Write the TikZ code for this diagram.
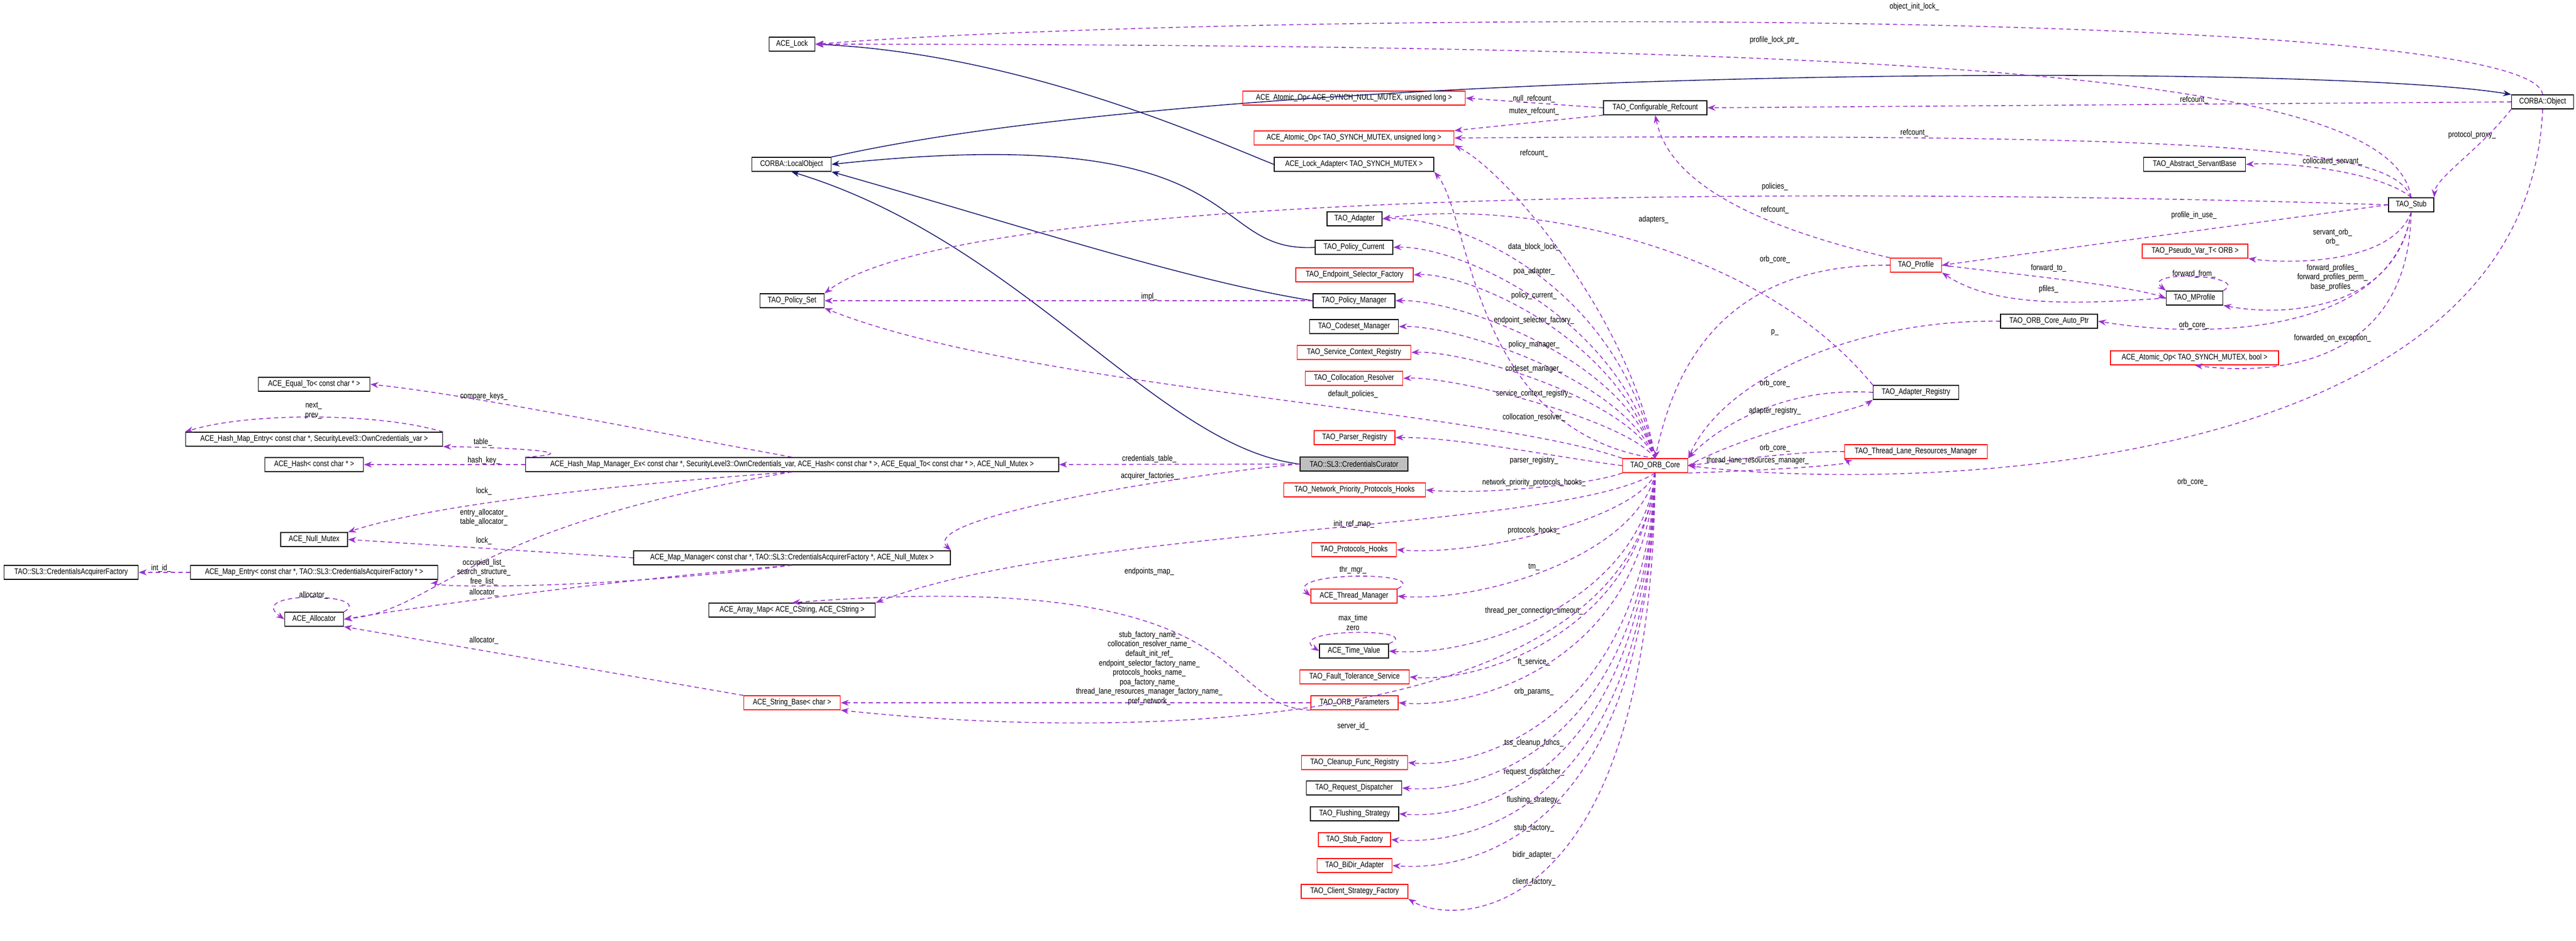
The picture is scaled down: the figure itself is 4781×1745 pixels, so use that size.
\documentclass[tikz,border=0pt]{standalone}
\usepackage{fontspec}
\newfontfamily\dx[FakeStretch=0.82]{Liberation Sans}
\usetikzlibrary{arrows.meta}
\definecolor{dep}{HTML}{9A32CD}
\definecolor{inh}{HTML}{191970}
\tikzset{
 cls/.style={draw=black,fill=white,line width=0.4pt,minimum height=0.26cm,inner sep=0pt,font=\dx\fontsize{4.3}{5}\selectfont},
 rcls/.style={cls,draw=red},
 dp/.style={draw=dep,line width=0.45pt,dash pattern=on 0.08cm off 0.06cm,-{Stealth[length=0.15cm,width=0.11cm]}},
 ih/.style={draw=inh,line width=0.45pt,-{Stealth[length=0.15cm,width=0.11cm]}},
 lb/.style={inner sep=0pt,font=\dx\fontsize{4.3}{5}\selectfont,align=center}
}
\begin{document}
\begin{tikzpicture}[x=0.01cm,y=-0.01cm]
\useasboundingbox (0,0) rectangle (4781,1745);
% nodes
\node[cls,minimum width=0.85cm] (lock) at (1470,82) {ACE\_Lock};
\node[cls,minimum width=1.47cm] (lobj) at (1469,305) {CORBA::LocalObject};
\node[cls,minimum width=1.19cm] (pset) at (1470,558) {TAO\_Policy\_Set};
\node[cls,minimum width=2.07cm] (eqto) at (583,713) {ACE\_Equal\_To< const char * >};
\node[cls,minimum width=4.77cm] (hme) at (583,815) {ACE\_Hash\_Map\_Entry< const char *, SecurityLevel3::OwnCredentials\_var >};
\node[cls,minimum width=1.83cm] (hash) at (583,862) {ACE\_Hash< const char * >};
\node[cls,minimum width=9.89cm] (hmm) at (1470,862) {ACE\_Hash\_Map\_Manager\_Ex< const char *, SecurityLevel3::OwnCredentials\_var, ACE\_Hash< const char * >, ACE\_Equal\_To< const char * >, ACE\_Null\_Mutex >};
\node[rcls,minimum width=4.13cm] (aonull) at (2513,182) {ACE\_Atomic\_Op< ACE\_SYNCH\_NULL\_MUTEX, unsigned long >};
\node[cls,minimum width=1.92cm] (cref) at (3072,200) {TAO\_Configurable\_Refcount};
\node[rcls,minimum width=3.71cm] (aomut) at (2513,256) {ACE\_Atomic\_Op< TAO\_SYNCH\_MUTEX, unsigned long >};
\node[cls,minimum width=2.96cm] (ladp) at (2513,305) {ACE\_Lock\_Adapter< TAO\_SYNCH\_MUTEX >};
\node[cls,minimum width=1.02cm] (adp) at (2514,406) {TAO\_Adapter};
\node[cls,minimum width=1.44cm] (pcur) at (2513,459) {TAO\_Policy\_Current};
\node[rcls,minimum width=2.18cm] (esf) at (2514,510) {TAO\_Endpoint\_Selector\_Factory};
\node[cls,minimum width=1.52cm] (pman) at (2513,558) {TAO\_Policy\_Manager};
\node[cls,minimum width=1.65cm] (csm) at (2513,606) {TAO\_Codeset\_Manager};
\node[rcls,minimum width=2.11cm] (scr) at (2513,654) {TAO\_Service\_Context\_Registry};
\node[rcls,minimum width=1.81cm] (colr) at (2513,702) {TAO\_Collocation\_Resolver};
\node[rcls,minimum width=1.50cm] (preg) at (2514,812) {TAO\_Parser\_Registry};
\node[cls,fill=black!25,minimum width=2.00cm] (cur) at (2513,861) {TAO::SL3::CredentialsCurator};
\node[rcls,minimum width=1.21cm] (core) at (3072,864) {TAO\_ORB\_Core};
\node[rcls,minimum width=2.63cm] (npph) at (2514,909) {TAO\_Network\_Priority\_Protocols\_Hooks};
\node[cls,minimum width=1.15cm] (obj) at (4719,189) {CORBA::Object};
\node[cls,minimum width=1.89cm] (asb) at (4073,305) {TAO\_Abstract\_ServantBase};
\node[cls,minimum width=0.84cm] (stub) at (4475,380) {TAO\_Stub};
\node[rcls,minimum width=0.95cm] (prof) at (3556,492) {TAO\_Profile};
\node[rcls,minimum width=1.96cm] (pvar) at (4074,466) {TAO\_Pseudo\_Var\_T< ORB >};
\node[cls,minimum width=1.05cm] (mprof) at (4073,553) {TAO\_MProfile};
\node[cls,minimum width=1.80cm] (oap) at (3803,596) {TAO\_ORB\_Core\_Auto\_Ptr};
\node[rcls,minimum width=3.12cm] (aobool) at (4073,664) {ACE\_Atomic\_Op< TAO\_SYNCH\_MUTEX, bool >};
\node[cls,minimum width=1.59cm] (areg) at (3556,728) {TAO\_Adapter\_Registry};
\node[rcls,minimum width=2.65cm] (tlrm) at (3556,838) {TAO\_Thread\_Lane\_Resources\_Manager};
\node[cls,minimum width=1.24cm] (nmut) at (583,1001) {ACE\_Null\_Mutex};
\node[cls,minimum width=2.49cm] (caf) at (132,1062) {TAO::SL3::CredentialsAcquirerFactory};
\node[cls,minimum width=4.59cm] (ment) at (583,1062) {ACE\_Map\_Entry< const char *, TAO::SL3::CredentialsAcquirerFactory * >};
\node[cls,minimum width=1.09cm] (alloc) at (583,1149) {ACE\_Allocator};
\node[cls,minimum width=5.88cm] (mman) at (1470,1035) {ACE\_Map\_Manager< const char *, TAO::SL3::CredentialsAcquirerFactory *, ACE\_Null\_Mutex >};
\node[cls,minimum width=3.09cm] (amap) at (1470,1132) {ACE\_Array\_Map< ACE\_CString, ACE\_CString >};
\node[rcls,minimum width=1.79cm] (sbase) at (1470,1304) {ACE\_String\_Base< char >};
\node[rcls,minimum width=1.57cm] (phk) at (2513,1020) {TAO\_Protocols\_Hooks};
\node[rcls,minimum width=1.60cm] (thm) at (2513,1106) {ACE\_Thread\_Manager};
\node[cls,minimum width=1.28cm] (tval) at (2513,1208) {ACE\_Time\_Value};
\node[rcls,minimum width=2.03cm] (fts) at (2514,1256) {TAO\_Fault\_Tolerance\_Service};
\node[rcls,minimum width=1.62cm] (opar) at (2514,1304) {TAO\_ORB\_Parameters};
\node[rcls,minimum width=1.97cm] (cfr) at (2514,1415) {TAO\_Cleanup\_Func\_Registry};
\node[cls,minimum width=1.77cm] (rdis) at (2513,1462) {TAO\_Request\_Dispatcher};
\node[cls,minimum width=1.64cm] (fstr) at (2514,1510) {TAO\_Flushing\_Strategy};
\node[rcls,minimum width=1.34cm] (sfac) at (2514,1558) {TAO\_Stub\_Factory};
\node[rcls,minimum width=1.39cm] (bidir) at (2514,1606) {TAO\_BiDir\_Adapter};
\node[rcls,minimum width=1.98cm] (csf) at (2514,1654) {TAO\_Client\_Strategy\_Factory};
% inheritance
\draw[ih] (ladp.west) .. controls (2250,260) and (1900,100) .. (lock.east);
\draw[ih] (lobj.north east) .. controls (2300,120) and (4300,115) .. (obj.north west);
\draw[ih] (pcur.west) .. controls (2230,470) and (2340,220) .. (lobj.east);
\draw[ih] (pman.west) .. controls (2200,520) and (1900,420) .. (lobj.south east);
\draw[ih] (cur.west) .. controls (2150,830) and (1900,450) .. (lobj.south);
% dependencies with labels
\draw[dp] (obj.north) .. controls (4700,10) and (2300,20) .. (lock.east); \node[lb] at (3553,13) {object\_init\_lock\_};
\draw[dp] (stub.north) .. controls (4440,150) and (3700,82) .. (lock.east); \node[lb] at (3293,75) {profile\_lock\_ptr\_};
\draw[dp] (obj.west) -- (cref.east); \node[lb] at (4072,186) {refcount\_};
\draw[dp] (stub.north) .. controls (4440,280) and (4200,245) .. (aomut.east); \node[lb] at (3553,247) {refcount\_};
\draw[dp] (cref.west) -- (aonull.east); \node[lb] at (2847,184) {null\_refcount\_};
\draw[dp] (cref.south west) -- (aomut.north east); \node[lb] at (2847,207) {mutex\_refcount\_};
\draw[dp] (core.north) .. controls (3030,600) and (2800,320) .. (aomut.south east); \node[lb] at (2847,285) {refcount\_};
\draw[dp] (prof.north west) .. controls (3170,400) and (3090,300) .. (cref.south); \node[lb] at (3294,390) {refcount\_};
\draw[dp] (stub.west) .. controls (3500,350) and (1800,340) .. (pset.north east); \node[lb] at (3294,347) {policies\_};
\draw[dp] (pman.west) -- (pset.east); \node[lb] at (2133,551) {impl\_};
\draw[dp] (core.north west) .. controls (2750,760) and (1900,720) .. (pset.south east); \node[lb] at (2511,732) {default\_policies\_};
\draw[dp] (areg.north west) .. controls (3250,440) and (2800,370) .. (adp.east); \node[lb] at (3069,408) {adapters\_};
\draw[dp] (core.north) .. controls (2730,800) and (2730,400) .. (ladp.south east); \node[lb] at (2847,459) {data\_block\_lock\_};
\draw[dp] (core.north) .. controls (3000,520) and (2700,400) .. (adp.east); \node[lb] at (2847,504) {poa\_adapter\_};
\draw[dp] (core.north) .. controls (3000,580) and (2700,455) .. (pcur.east); \node[lb] at (2847,549) {policy\_current\_};
\draw[dp] (core.north) .. controls (3000,620) and (2720,505) .. (esf.east); \node[lb] at (2847,595) {endpoint\_selector\_factory\_};
\draw[dp] (core.north) .. controls (3010,660) and (2700,555) .. (pman.east); \node[lb] at (2847,640) {policy\_manager\_};
\draw[dp] (core.north) .. controls (3010,700) and (2700,603) .. (csm.east); \node[lb] at (2847,685) {codeset\_manager\_};
\draw[dp] (core.north) .. controls (3020,740) and (2720,650) .. (scr.east); \node[lb] at (2847,731) {service\_context\_registry\_};
\draw[dp] (core.north) .. controls (3020,780) and (2700,698) .. (colr.east); \node[lb] at (2847,775) {collocation\_resolver\_};
\draw[dp] (core.west) .. controls (2900,850) and (2700,810) .. (preg.east); \node[lb] at (2847,855) {parser\_registry\_};
\draw[dp] (core.south west) .. controls (2950,900) and (2750,918) .. (npph.east); \node[lb] at (2847,896) {network\_priority\_protocols\_hooks\_};
\draw[dp] (core.south) .. controls (2900,985) and (2000,975) .. (amap.north east); \node[lb] at (2513,973) {init\_ref\_map\_};
\draw[dp] (core.south) .. controls (3040,960) and (2750,1032) .. (phk.east); \node[lb] at (2847,985) {protocols\_hooks\_};
\draw[dp] (core.south) .. controls (3040,1030) and (2750,1118) .. (thm.east); \node[lb] at (2847,1052) {tm\_};
\draw[dp] (core.south) .. controls (3045,1110) and (2750,1220) .. (tval.east); \node[lb] at (2847,1134) {thread\_per\_connection\_timeout\_};
\draw[dp] (core.south) .. controls (3045,1170) and (2750,1268) .. (fts.east); \node[lb] at (2847,1229) {ft\_service\_};
\draw[dp] (core.south) .. controls (3050,1220) and (2750,1316) .. (opar.east); \node[lb] at (2847,1284) {orb\_params\_};
\draw[dp] (core.south) .. controls (3030,1360) and (2100,1375) .. (sbase.south east); \node[lb] at (2511,1348) {server\_id\_};
\draw[dp] (core.south) .. controls (3050,1330) and (2750,1427) .. (cfr.east); \node[lb] at (2847,1379) {tss\_cleanup\_funcs\_};
\draw[dp] (core.south) .. controls (3055,1380) and (2750,1474) .. (rdis.east); \node[lb] at (2847,1433) {request\_dispatcher\_};
\draw[dp] (core.south) .. controls (3055,1430) and (2750,1522) .. (fstr.east); \node[lb] at (2847,1485) {flushing\_strategy\_};
\draw[dp] (core.south) .. controls (3060,1480) and (2750,1570) .. (sfac.east); \node[lb] at (2847,1537) {stub\_factory\_};
\draw[dp] (core.south) .. controls (3060,1530) and (2750,1618) .. (bidir.east); \node[lb] at (2847,1587) {bidir\_adapter\_};
\draw[dp] (core.south) .. controls (3065,1720) and (2700,1720) .. (csf.south east); \node[lb] at (2847,1637) {client\_factory\_};
\draw[dp] (opar.west) -- (sbase.east);
\node[lb] at (2133,1240) {stub\_factory\_name\_\\collocation\_resolver\_name\_\\default\_init\_ref\_\\endpoint\_selector\_factory\_name\_\\protocols\_hooks\_name\_\\poa\_factory\_name\_\\thread\_lane\_resources\_manager\_factory\_name\_\\pref\_network\_};
\draw[dp] (opar.south west) .. controls (2250,1310) and (2350,1050) .. (amap.north); \node[lb] at (2133,1061) {endpoints\_map\_};
\draw[dp] (thm.north east) .. controls (2660,1060) and (2380,1060) .. (thm.west); \node[lb] at (2511,1058) {thr\_mgr\_};
\draw[dp] (tval.north east) .. controls (2650,1165) and (2380,1165) .. (tval.west); \node[lb] at (2511,1155) {max\_time\\zero};
% stub
\draw[dp] (obj.south west) .. controls (4600,280) and (4520,330) .. (stub.north east); \node[lb] at (4588,251) {protocol\_proxy\_};
\draw[dp] (obj.south) .. controls (4690,900) and (3500,910) .. (core.east); \node[lb] at (4069,895) {orb\_core\_};
\draw[dp] (stub.north) .. controls (4420,320) and (4250,300) .. (asb.east); \node[lb] at (4329,300) {collocated\_servant\_};
\draw[dp] (stub.west) -- (prof.east); \node[lb] at (4072,400) {profile\_in\_use\_};
\draw[dp] (stub.south) .. controls (4440,490) and (4250,490) .. (pvar.south east); \node[lb] at (4329,440) {servant\_orb\_\\orb\_};
\draw[dp] (stub.south) .. controls (4450,570) and (4250,590) .. (mprof.south east); \node[lb] at (4329,515) {forward\_profiles\_\\forward\_profiles\_perm\_\\base\_profiles\_};
\draw[dp] (stub.south) .. controls (4440,620) and (4100,630) .. (oap.east); \node[lb] at (4072,604) {orb\_core\_};
\draw[dp] (stub.south) .. controls (4470,690) and (4200,695) .. (aobool.south); \node[lb] at (4329,628) {forwarded\_on\_exception\_};
\draw[dp] (mprof.west) .. controls (3850,565) and (3700,570) .. (prof.south east); \node[lb] at (3802,537) {pfiles\_};
\draw[dp] (prof.east) .. controls (3750,510) and (3950,530) .. (mprof.west); \node[lb] at (3802,498) {forward\_to\_};
\draw[dp] (mprof.north east) .. controls (4180,510) and (3970,500) .. (mprof.north west); \node[lb] at (4072,509) {forward\_from\_};
\draw[dp] (prof.west) .. controls (3250,490) and (3120,620) .. (core.north); \node[lb] at (3294,482) {orb\_core\_};
\draw[dp] (oap.west) .. controls (3450,592) and (3200,700) .. (core.north east); \node[lb] at (3294,617) {p\_};
\draw[dp] (areg.west) .. controls (3300,717) and (3180,800) .. (core.north east); \node[lb] at (3294,712) {orb\_core\_};
\draw[dp] (core.east) .. controls (3250,800) and (3450,760) .. (areg.south west); \node[lb] at (3294,763) {adapter\_registry\_};
\draw[dp] (tlrm.west) .. controls (3350,836) and (3200,855) .. (core.east); \node[lb] at (3294,832) {orb\_core\_};
\draw[dp] (core.south east) .. controls (3300,872) and (3440,862) .. (tlrm.south west); \node[lb] at (3262,855) {thread\_lane\_resources\_manager\_};
% curator
\draw[dp] (cur.west) -- (hmm.east); \node[lb] at (2133,852) {credentials\_table\_};
\draw[dp] (cur.west) .. controls (2200,880) and (1700,960) .. (mman.north east); \node[lb] at (2133,884) {acquirer\_factories\_};
% hash map manager
\draw[dp] (hmm.north) .. controls (1100,780) and (850,730) .. (eqto.east); \node[lb] at (898,736) {compare\_keys\_};
\draw[dp] (hmm.north west) .. controls (1100,840) and (950,830) .. (hme.south east); \node[lb] at (896,821) {table\_};
\draw[dp] (hmm.west) -- (hash.east); \node[lb] at (898,855) {hash\_key\_};
\draw[dp] (hme.north east) .. controls (700,765) and (460,765) .. (hme.north west); \node[lb] at (582,762) {next\_\\prev\_};
\draw[dp] (hmm.south) .. controls (1000,910) and (760,950) .. (nmut.north east); \node[lb] at (898,912) {lock\_};
\draw[dp] (hmm.south) .. controls (850,980) and (820,1130) .. (alloc.east); \node[lb] at (898,960) {entry\_allocator\_\\table\_allocator\_};
\draw[dp] (mman.west) -- (nmut.east); \node[lb] at (898,1004) {lock\_};
\draw[dp] (mman.south) .. controls (1100,1095) and (800,1090) .. (ment.south east); \node[lb] at (898,1062) {occupied\_list\_\\search\_structure\_\\free\_list\_};
\draw[dp] (mman.south) .. controls (1100,1080) and (750,1130) .. (alloc.east); \node[lb] at (898,1100) {allocator\_};
\draw[dp] (alloc.north east) .. controls (700,1100) and (450,1095) .. (alloc.west); \node[lb] at (582,1105) {allocator\_};
\draw[dp] (sbase.north west) -- (alloc.south east); \node[lb] at (898,1189) {allocator\_};
\draw[dp] (ment.west) -- (caf.east); \node[lb] at (299,1055) {int\_id\_};
\end{tikzpicture}
\end{document}
